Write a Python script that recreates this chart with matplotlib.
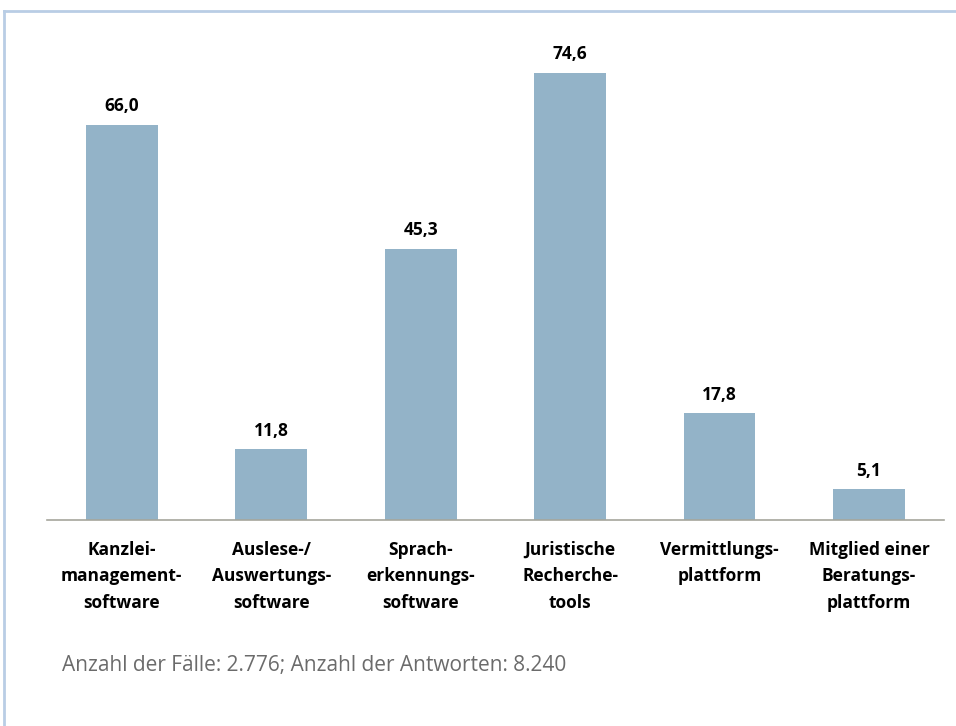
import numpy as np
import matplotlib.pyplot as plt
from matplotlib.lines import Line2D

categories = ["Kanzlei-\nmanagement-\nsoftware", "Auslese-/\nAuswertungs-\nsoftware",
              "Sprach-\nerkennungs-\nsoftware", "Juristische\nRecherche-\ntools",
              "Vermittlungs-\nplattform", "Mitglied einer\nBeratungs-\nplattform"]
values = [66.0, 11.8, 45.3, 74.6, 17.8, 5.1]
value_labels = ["66,0", "11,8", "45,3", "74,6", "17,8", "5,1"]
note = "Anzahl der Fälle: 2.776; Anzahl der Antworten: 8.240"

plt.rcParams['font.family'] = ['Open Sans', 'DejaVu Sans']

fig = plt.figure(figsize=(9.56, 7.26), dpi=100)
ax = fig.add_axes([0.0492, 0.2837, 0.938, 0.660])

x = np.arange(len(values))
ax.bar(x, values, width=0.48, color="#93B3C8")
for xi, v, lab in zip(x, values, value_labels):
    ax.annotate(lab, (xi, v), xytext=(0, 7), textcoords="offset points",
                ha="center", va="bottom", fontsize=12.5, fontweight="bold", color="black")

ax.set_xlim(-0.5, 5.5)
ax.set_ylim(0, 80)
ax.set_yticks([])
ax.set_xticks(x)
ax.set_xticklabels(categories, fontsize=12.5, fontweight="bold", linespacing=1.6)
ax.tick_params(axis="x", length=0, pad=15)
for s in ["top", "right", "left"]:
    ax.spines[s].set_visible(False)
ax.spines["bottom"].set_color("#A6A69C")
ax.spines["bottom"].set_linewidth(1.2)

fig.text(62 / 956, 1 - 665 / 726, note, fontsize=15, color="#6B6B6B", va="center", ha="left")

# light blue frame (top and left edges)
fig.add_artist(Line2D([4 / 956, 1], [1 - 11 / 726, 1 - 11 / 726], color="#B9CDE5", lw=2))
fig.add_artist(Line2D([4 / 956, 4 / 956], [0, 1 - 11 / 726], color="#B9CDE5", lw=2))

fig.savefig("out.png", dpi=100)
